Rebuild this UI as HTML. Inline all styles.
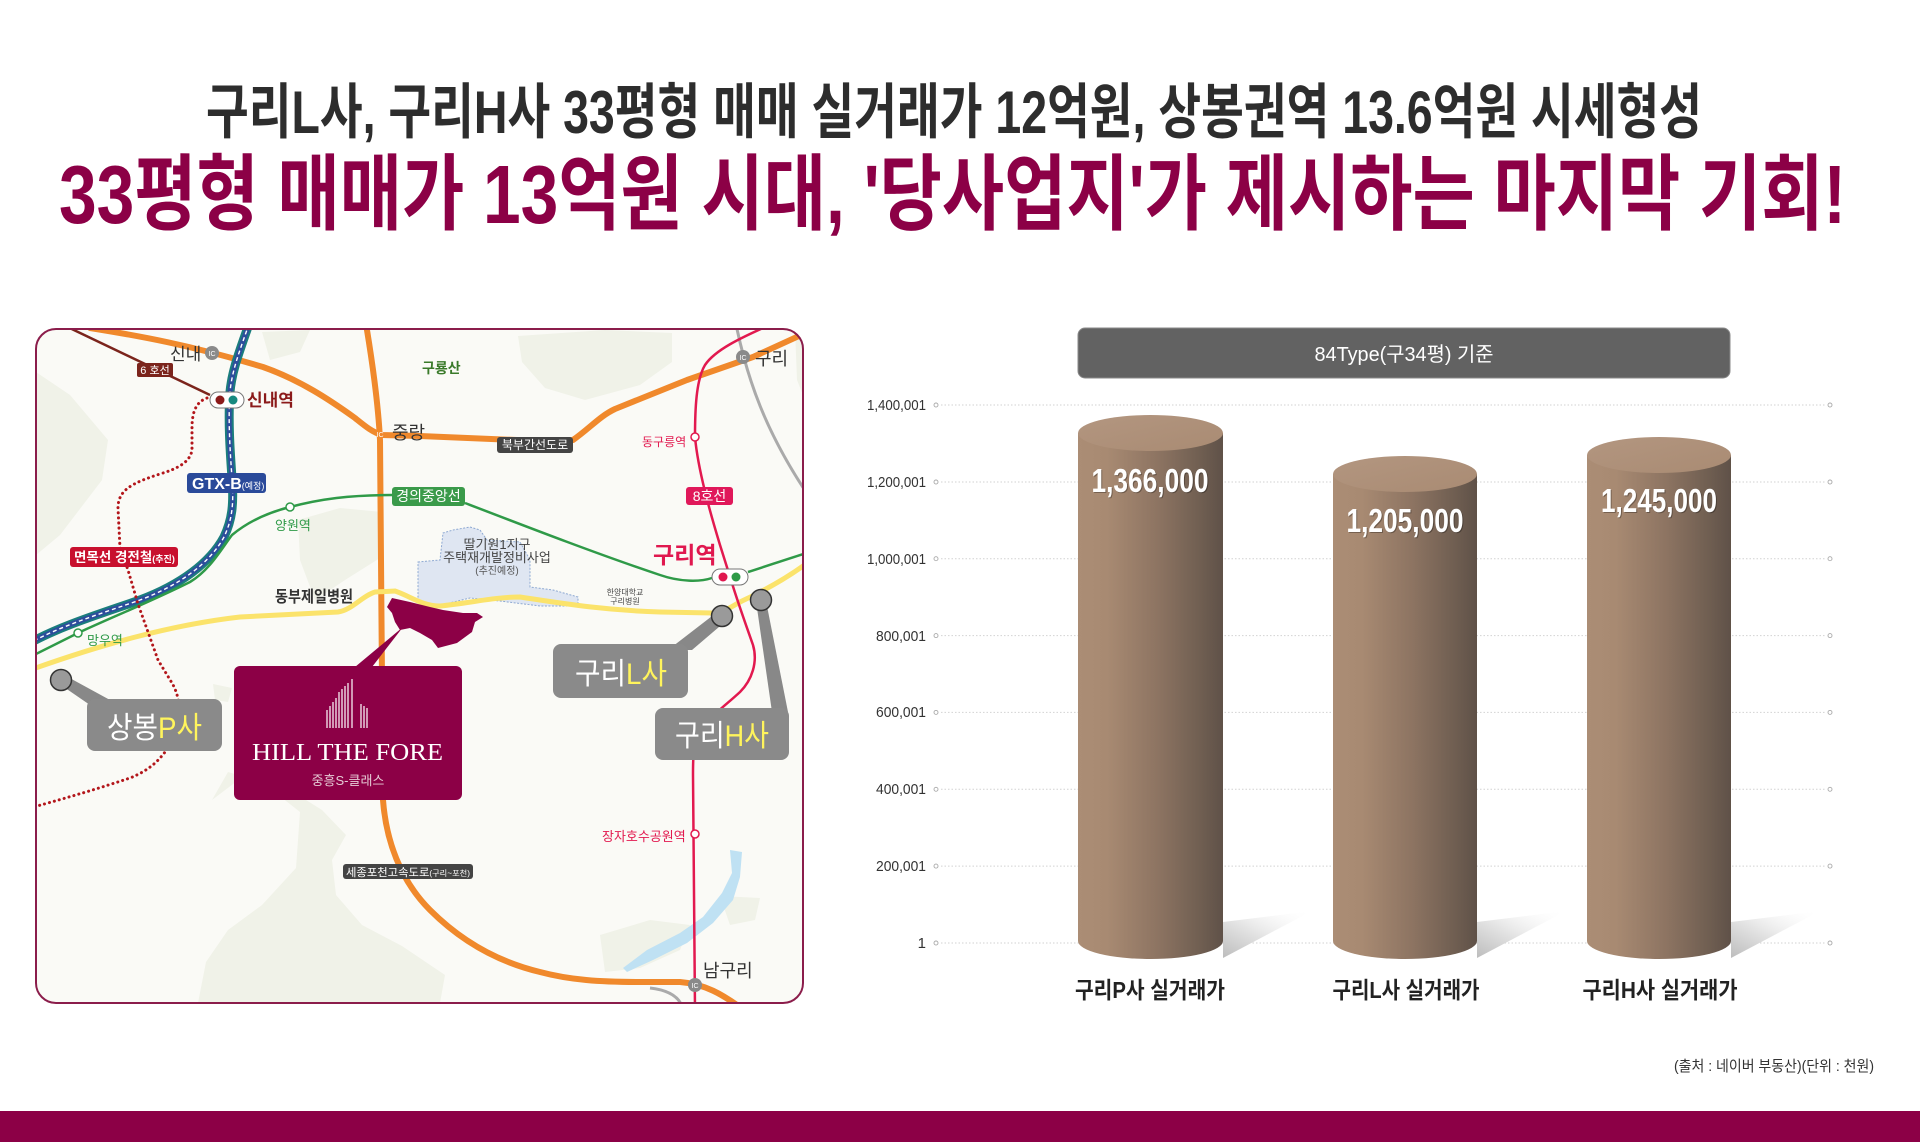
<!DOCTYPE html>
<html><head><meta charset="utf-8"><style>
html,body{margin:0;padding:0;background:#fff;}
svg{display:block;}
text{font-family:"Liberation Sans","Noto Sans CJK KR",sans-serif;}
.serif{font-family:"Liberation Serif","Noto Serif CJK SC",serif;}
</style></head><body>
<svg width="1920" height="1142" viewBox="0 0 1920 1142" xmlns="http://www.w3.org/2000/svg">
<defs>
 <clipPath id="mapclip"><rect x="36" y="329" width="767" height="674" rx="20"/></clipPath>
 <linearGradient id="cyl" x1="0" x2="1" y1="0" y2="0">
  <stop offset="0" stop-color="#ab8d75"/>
  <stop offset="0.2" stop-color="#a88a72"/>
  <stop offset="0.55" stop-color="#8d7462"/>
  <stop offset="0.85" stop-color="#6f5e51"/>
  <stop offset="1" stop-color="#5f5148"/>
 </linearGradient>
 <linearGradient id="cyltop" x1="0" x2="1" y1="0" y2="1">
  <stop offset="0" stop-color="#b39680"/>
  <stop offset="1" stop-color="#a98b73"/>
 </linearGradient>
 <linearGradient id="shd" x1="0" y1="1" x2="1" y2="0">
  <stop offset="0" stop-color="#bdbdbd"/>
  <stop offset="0.45" stop-color="#e4e4e4"/>
  <stop offset="1" stop-color="#ffffff" stop-opacity="0"/>
 </linearGradient>
</defs>
<rect width="1920" height="1142" fill="#fff"/>

<!-- Titles -->
<text x="206" y="133" font-size="60" font-weight="700" fill="#2d2d2d" textLength="1496" lengthAdjust="spacingAndGlyphs">구리L사, 구리H사 33평형 매매 실거래가 12억원, 상봉권역 13.6억원 시세형성</text>
<text x="59" y="223" font-size="83" font-weight="700" fill="#8c0046" textLength="1787" lengthAdjust="spacingAndGlyphs">33평형 매매가 13억원 시대, '당사업지'가 제시하는 마지막 기회!</text>

<!-- MAP -->
<g clip-path="url(#mapclip)">
 <rect x="36" y="329" width="767" height="674" fill="#fafaf6"/>
 <g fill="#f0f2e8">
  <path d="M36,372 L70,395 L108,440 L102,480 L60,535 L36,555 Z"/>
  <path d="M262,332 L310,330 L300,352 L270,360 Z"/>
  <path d="M518,336 L605,330 L672,333 L672,362 L640,385 L585,400 L545,388 L522,362 Z"/>
  <path d="M298,520 L340,508 L382,512 L380,558 L345,580 L315,600 L300,560 Z"/>
  <path d="M212,800 L228,772 L262,782 L300,812 L296,868 L262,905 L228,930 L206,962 L198,1003 L440,1003 L445,975 L402,946 L362,925 L336,895 L332,860 L346,835 L322,810 L290,790 L262,762 Z"/>
  <path d="M600,935 L650,920 L690,925 L680,950 L640,968 L605,972 Z"/>
  <path d="M213,684 L232,688 L228,702 L215,700 Z"/>
  <path d="M795,329 L803,329 L803,395 L797,380 Z"/>
  <path d="M720,896 L760,898 L755,920 L730,925 Z"/>
 </g>
 <!-- redevelopment area -->
 <path d="M418,562 L440,560 L443,533 L453,530 L470,527 L480,530 L487,540 L520,542 L530,560 L530,587 L553,590 L578,597 L578,606 L540,606 L500,601 L470,598 L445,604 L425,608 L418,600 Z" fill="#dfe6f2" stroke="#8ea9d2" stroke-width="1" stroke-dasharray="2,1.5"/>
 <!-- gray roads -->
 <path d="M737,329 C748,380 765,430 806,492" stroke="#aaa" stroke-width="3" fill="none"/>
 <path d="M650,988 C668,990 678,996 682,1006" stroke="#aaa" stroke-width="3" fill="none"/>
 <!-- lake -->
 <path d="M730,850 L742,852 L740,877 L733,900 L713,923 L687,943 L653,960 L627,972 L623,968 L647,950 L680,933 L703,917 L722,893 L732,873 Z" fill="#bfe1f3"/>
 <!-- orange roads -->
 <g fill="none" stroke="#f0892c" stroke-width="6" stroke-linecap="round" stroke-linejoin="round">
  <path d="M90,328 C140,336 190,345 263,367 C300,380 330,400 355,418 C365,426 372,432 382,435 L420,436 L540,441 L573,440 C590,428 600,416 615,409 L687,380 L753,357 L812,330"/>
  <path d="M366,324 C372,360 378,400 380,440 L383,800 C386,840 400,880 430,910 C455,935 490,960 540,972 C570,980 600,982 640,982 L680,982 C705,984 722,994 744,1010"/>
 </g>
 <!-- yellow road -->
 <path d="M30,670 C100,645 170,625 240,617 L338,612 C352,610 362,596 375,592 L395,591 C410,596 422,606 440,606 C470,603 495,597 520,597 C560,603 600,610 660,612 L712,613 C726,612 732,606 742,601 C770,588 790,576 810,561" fill="none" stroke="#fbe36b" stroke-width="5"/>
 <!-- GTX-B -->
 <g fill="none">
  <path d="M249,324 C240,350 232,370 230,392 C228,420 230,450 232,478 C234,505 232,520 224,537 C210,563 180,585 140,600 C100,614 60,626 28,644" stroke="#1a7d7d" stroke-width="9"/>
  <path d="M249,324 C240,350 232,370 230,392 C228,420 230,450 232,478 C234,505 232,520 224,537 C210,563 180,585 140,600 C100,614 60,626 28,644" stroke="#2d4d9c" stroke-width="5"/>
  <path d="M249,324 C240,350 232,370 230,392 C228,420 230,450 232,478 C234,505 232,520 224,537 C210,563 180,585 140,600 C100,614 60,626 28,644" stroke="#fff" stroke-width="1.4" stroke-dasharray="4,3"/>
 </g>
 <!-- green line -->
 <g fill="none" stroke="#2f9a48" stroke-width="2.5">
  <path d="M28,658 L78,633 C110,618 150,602 190,582 C210,570 222,548 232,535 C250,520 270,512 290,507 C320,499 350,495 392,495"/>
  <path d="M465,503 C530,528 600,555 660,575 C680,582 700,582 712,578"/>
  <path d="M748,572 C770,565 790,558 810,552"/>
 </g>
 <!-- line 6 -->
 <path d="M55,321 L210,395" stroke="#7b241c" stroke-width="2.5" fill="none"/>
 <!-- red dotted -->
 <path d="M207,398 C196,402 192,412 192,428 L192,450 C190,463 176,469 160,474 C132,483 118,490 118,508 L120,548 L128,570 L138,604 L158,660 L172,683 C182,700 182,725 170,745 C160,760 150,770 130,778 C100,788 70,797 30,808" fill="none" stroke="#b3161b" stroke-width="3" stroke-dasharray="0.1,5" stroke-linecap="round"/>
 <!-- line 8 -->
 <path d="M772,324 C740,338 715,350 705,365 C696,380 695,410 695,437 C698,470 710,512 720,545 L731,580 C738,603 746,625 753,645 C758,662 752,680 740,692 C725,706 705,720 698,735 C693,748 693,760 693,775 L695,1010" fill="none" stroke="#e2194f" stroke-width="2.5"/>

 <!-- site shape -->
 <path d="M387,607 L392,598 L410,602 L430,607 L443,610 L463,613 L477,613 L483,617 L475,622 L472,632 L457,643 L438,648 L432,640 L420,633 L410,628 L400,630 L395,622 L392,613 Z" fill="#8c0046"/>
 <path d="M355,667 L403,627 L372,667 Z" fill="#8c0046"/>

 <!-- pointers -->
 <path d="M58,683 L66,676 L110,700 L90,705 Z" fill="#888"/>
 <path d="M716,613 L726,621 L692,650 L668,650 Z" fill="#888"/>
 <path d="M757,608 L767,606 L788,712 L772,712 Z" fill="#888"/>

 <!-- gray labels -->
 <rect x="87" y="699" width="135" height="52" rx="8" fill="#8a8a8a"/>
 <text x="107" y="738" font-size="30" fill="#fff" textLength="95" lengthAdjust="spacingAndGlyphs">상봉<tspan fill="#fff45c">P사</tspan></text>
 <rect x="553" y="644" width="135" height="54" rx="8" fill="#8a8a8a"/>
 <text x="575" y="684" font-size="30" fill="#fff" textLength="92" lengthAdjust="spacingAndGlyphs">구리<tspan fill="#fff45c">L사</tspan></text>
 <rect x="655" y="708" width="134" height="52" rx="8" fill="#8a8a8a"/>
 <text x="675" y="746" font-size="30" fill="#fff" textLength="94" lengthAdjust="spacingAndGlyphs">구리<tspan fill="#fff45c">H사</tspan></text>
 <circle cx="61" cy="680" r="10.5" fill="#9a9a9a" stroke="#333" stroke-width="1.5"/>
 <circle cx="722" cy="616" r="10.5" fill="#9a9a9a" stroke="#333" stroke-width="1.5"/>
 <circle cx="761" cy="600" r="10.5" fill="#9a9a9a" stroke="#333" stroke-width="1.5"/>

 <!-- station pills -->
 <rect x="210" y="392" width="34" height="16" rx="8" fill="#fff" stroke="#777" stroke-width="1"/>
 <circle cx="220" cy="400" r="4.5" fill="#8b1a1a"/>
 <circle cx="233" cy="400" r="4.5" fill="#16897f"/>
 <rect x="712" y="569" width="36" height="16" rx="8" fill="#fff" stroke="#777" stroke-width="1"/>
 <circle cx="723" cy="577" r="4.5" fill="#e0184f"/>
 <circle cx="736" cy="577" r="4.5" fill="#2e9a48"/>
 <!-- station circles -->
 <circle cx="290" cy="507" r="4" fill="#fff" stroke="#2f9a48" stroke-width="1.5"/>
 <circle cx="78" cy="633" r="4" fill="#fff" stroke="#2f9a48" stroke-width="1.5"/>
 <circle cx="695" cy="437" r="4" fill="#fff" stroke="#e2194f" stroke-width="1.5"/>
 <circle cx="695" cy="834" r="4" fill="#fff" stroke="#e2194f" stroke-width="1.5"/>
 <!-- IC -->
 <circle cx="212" cy="353" r="7" fill="#8a8a8a"/><text x="212" y="356" font-size="7" fill="#fff" text-anchor="middle">IC</text>
 <circle cx="743" cy="357" r="7" fill="#8a8a8a"/><text x="743" y="360" font-size="7" fill="#fff" text-anchor="middle">IC</text>
 <circle cx="695" cy="985" r="7" fill="#8a8a8a"/><text x="695" y="988" font-size="7" fill="#fff" text-anchor="middle">IC</text>
 <text x="380" y="437" font-size="7" fill="#fff" text-anchor="middle">IC</text>

 <!-- text labels -->
 <text x="170" y="360" font-size="17" fill="#333">신내</text>
 <text x="247" y="406" font-size="17" font-weight="700" fill="#8b1a1a">신내역</text>
 <rect x="137" y="363" width="36" height="14" rx="2" fill="#7b241c"/>
 <text x="155" y="374" font-size="11" fill="#fff" text-anchor="middle">6 호선</text>
 <text x="392" y="439" font-size="18" fill="#333">중랑</text>
 <text x="422" y="373" font-size="14" font-weight="700" fill="#3a7a2a">구룡산</text>
 <rect x="497" y="437" width="76" height="16" rx="3" fill="#444"/>
 <text x="535" y="449" font-size="12" fill="#fff" text-anchor="middle">북부간선도로</text>
 <rect x="392" y="487" width="73" height="19" rx="3" fill="#3a9a4a"/>
 <text x="428.5" y="501" font-size="14" fill="#fff" text-anchor="middle">경의중앙선</text>
 <rect x="187" y="473" width="79" height="20" rx="3" fill="#2a4a9a"/>
 <text x="192" y="489" font-size="16" font-weight="700" fill="#fff">GTX-B<tspan font-size="9" font-weight="400">(예정)</tspan></text>
 <text x="275" y="530" font-size="13" fill="#2f9a48">양원역</text>
 <text x="87" y="645" font-size="13" fill="#2f9a48">망우역</text>
 <rect x="70" y="547" width="108" height="20" rx="3" fill="#c8102e"/>
 <text x="74" y="562" font-size="13.5" font-weight="700" fill="#fff">면목선 경전철<tspan font-size="9">(추진)</tspan></text>
 <text x="275" y="602" font-size="16" font-weight="700" fill="#333" textLength="78" lengthAdjust="spacingAndGlyphs">동부제일병원</text>
 <text x="497" y="549" font-size="13" fill="#444" text-anchor="middle">딸기원1지구</text>
 <text x="497" y="562" font-size="13" fill="#444" text-anchor="middle">주택재개발정비사업</text>
 <text x="497" y="574" font-size="10" fill="#555" text-anchor="middle">(추진예정)</text>
 <text x="625" y="595" font-size="8" fill="#444" text-anchor="middle">한양대학교</text>
 <text x="625" y="604" font-size="8" fill="#444" text-anchor="middle">구리병원</text>
 <text x="642" y="446" font-size="12" fill="#e2194f">동구릉역</text>
 <rect x="686" y="487" width="47" height="18" rx="3" fill="#e0185a"/>
 <text x="709.5" y="501" font-size="14" fill="#fff" text-anchor="middle">8호선</text>
 <text x="653" y="563" font-size="23" font-weight="700" fill="#e0184f">구리역</text>
 <text x="755" y="365" font-size="18" fill="#333">구리</text>
 <text x="602" y="841" font-size="13" fill="#e2194f">장자호수공원역</text>
 <text x="703" y="977" font-size="18" fill="#333">남구리</text>
 <rect x="343" y="864" width="130" height="15" rx="3" fill="#444"/>
 <text x="346" y="876" font-size="11" fill="#fff" textLength="124" lengthAdjust="spacingAndGlyphs">세종포천고속도로<tspan font-size="8">(구리~포천)</tspan></text>

 <!-- HILL THE FORE box -->
 <rect x="234" y="666" width="228" height="134" rx="6" fill="#8c0046"/>
 <g stroke="#fff" stroke-width="1.2">
  <line x1="327" y1="710" x2="327" y2="728"/><line x1="330" y1="706" x2="330" y2="728"/>
  <line x1="333" y1="702" x2="333" y2="728"/><line x1="336" y1="698" x2="336" y2="728"/>
  <line x1="339" y1="692" x2="339" y2="728"/><line x1="342" y1="689" x2="342" y2="728"/>
  <line x1="345" y1="686" x2="345" y2="728"/><line x1="348" y1="683" x2="348" y2="728"/>
  <line x1="352" y1="679" x2="352" y2="728"/>
  <line x1="361" y1="704" x2="361" y2="728"/><line x1="364" y1="706" x2="364" y2="728"/>
  <line x1="367" y1="708" x2="367" y2="728"/>
 </g>
 <text class="serif" x="252" y="760" font-size="24" fill="#fff" textLength="191" lengthAdjust="spacingAndGlyphs">HILL THE FORE</text>
 <text x="348" y="785" font-size="13" fill="#e6cbd6" text-anchor="middle">중흥S-클래스</text>
</g>
<rect x="36" y="329" width="767" height="674" rx="20" fill="none" stroke="#8b1d4b" stroke-width="2"/>

<!-- CHART -->
<rect x="1078" y="328" width="652" height="50" rx="7" fill="#626262" stroke="#8a8a8a" stroke-width="1"/>
<text x="1404" y="361" font-size="20" fill="#fff" text-anchor="middle" textLength="179" lengthAdjust="spacingAndGlyphs">84Type(구34평) 기준</text>

<g stroke="#d2d2d2" stroke-width="1" stroke-dasharray="1.5,2">
 <line x1="941" x2="1826" y1="405" y2="405"/>
 <line x1="941" x2="1826" y1="482" y2="482"/>
 <line x1="941" x2="1826" y1="558.7" y2="558.7"/>
 <line x1="941" x2="1826" y1="635.6" y2="635.6"/>
 <line x1="941" x2="1826" y1="712.4" y2="712.4"/>
 <line x1="941" x2="1826" y1="789.3" y2="789.3"/>
 <line x1="941" x2="1826" y1="866.1" y2="866.1"/>
 <line x1="941" x2="1826" y1="943" y2="943"/>
</g>
<g fill="none" stroke="#aaa" stroke-width="0.9">
 <circle cx="936" cy="405" r="2"/><circle cx="1830" cy="405" r="2"/>
 <circle cx="936" cy="482" r="2"/><circle cx="1830" cy="482" r="2"/>
 <circle cx="936" cy="558.7" r="2"/><circle cx="1830" cy="558.7" r="2"/>
 <circle cx="936" cy="635.6" r="2"/><circle cx="1830" cy="635.6" r="2"/>
 <circle cx="936" cy="712.4" r="2"/><circle cx="1830" cy="712.4" r="2"/>
 <circle cx="936" cy="789.3" r="2"/><circle cx="1830" cy="789.3" r="2"/>
 <circle cx="936" cy="866.1" r="2"/><circle cx="1830" cy="866.1" r="2"/>
 <circle cx="936" cy="943" r="2"/><circle cx="1830" cy="943" r="2"/>
</g>
<g font-size="15" fill="#333" text-anchor="end">
 <text x="926" y="410" textLength="59" lengthAdjust="spacingAndGlyphs">1,400,001</text>
 <text x="926" y="487" textLength="59" lengthAdjust="spacingAndGlyphs">1,200,001</text>
 <text x="926" y="564" textLength="59" lengthAdjust="spacingAndGlyphs">1,000,001</text>
 <text x="926" y="641" textLength="50" lengthAdjust="spacingAndGlyphs">800,001</text>
 <text x="926" y="717" textLength="50" lengthAdjust="spacingAndGlyphs">600,001</text>
 <text x="926" y="794" textLength="50" lengthAdjust="spacingAndGlyphs">400,001</text>
 <text x="926" y="871" textLength="50" lengthAdjust="spacingAndGlyphs">200,001</text>
 <text x="926" y="948">1</text>
</g>

<!-- shadows -->
<path d="M1223,958 L1223,922 L1312,911 Z" fill="url(#shd)"/>
<path d="M1477,958 L1477,922 L1566,911 Z" fill="url(#shd)"/>
<path d="M1731,958 L1731,922 L1820,911 Z" fill="url(#shd)"/>

<!-- bar 1 -->
<ellipse cx="1150.5" cy="941" rx="72.5" ry="18" fill="url(#cyl)"/>
<rect x="1078" y="433" width="145" height="508" fill="url(#cyl)"/>
<ellipse cx="1150.5" cy="433" rx="72.5" ry="18" fill="url(#cyltop)"/>
<!-- bar 2 -->
<ellipse cx="1405" cy="941" rx="72" ry="18" fill="url(#cyl)"/>
<rect x="1333" y="474" width="144" height="467" fill="url(#cyl)"/>
<ellipse cx="1405" cy="474" rx="72" ry="18" fill="url(#cyltop)"/>
<!-- bar 3 -->
<ellipse cx="1659" cy="941" rx="72" ry="18" fill="url(#cyl)"/>
<rect x="1587" y="455" width="144" height="486" fill="url(#cyl)"/>
<ellipse cx="1659" cy="455" rx="72" ry="18" fill="url(#cyltop)"/>

<!-- values -->
<g font-size="33" font-weight="700" text-anchor="middle">
 <text x="1151" y="493" fill="rgba(0,0,0,0.3)" textLength="117" lengthAdjust="spacingAndGlyphs">1,366,000</text>
 <text x="1150" y="492" fill="#fff" textLength="117" lengthAdjust="spacingAndGlyphs">1,366,000</text>
 <text x="1406" y="533" fill="rgba(0,0,0,0.3)" textLength="117" lengthAdjust="spacingAndGlyphs">1,205,000</text>
 <text x="1405" y="532" fill="#fff" textLength="117" lengthAdjust="spacingAndGlyphs">1,205,000</text>
 <text x="1660" y="513" fill="rgba(0,0,0,0.3)" textLength="116" lengthAdjust="spacingAndGlyphs">1,245,000</text>
 <text x="1659" y="512" fill="#fff" textLength="116" lengthAdjust="spacingAndGlyphs">1,245,000</text>
</g>

<!-- categories -->
<g font-size="23" font-weight="700" fill="#222" text-anchor="middle">
 <text x="1150" y="998" textLength="150" lengthAdjust="spacingAndGlyphs">구리P사 실거래가</text>
 <text x="1406" y="998" textLength="147" lengthAdjust="spacingAndGlyphs">구리L사 실거래가</text>
 <text x="1660" y="998" textLength="155" lengthAdjust="spacingAndGlyphs">구리H사 실거래가</text>
</g>

<text x="1674" y="1071" font-size="15" fill="#333" textLength="200" lengthAdjust="spacingAndGlyphs">(출처 : 네이버 부동산)(단위 : 천원)</text>

<rect x="0" y="1111" width="1920" height="31" fill="#8c0046"/>
</svg>
</body></html>
